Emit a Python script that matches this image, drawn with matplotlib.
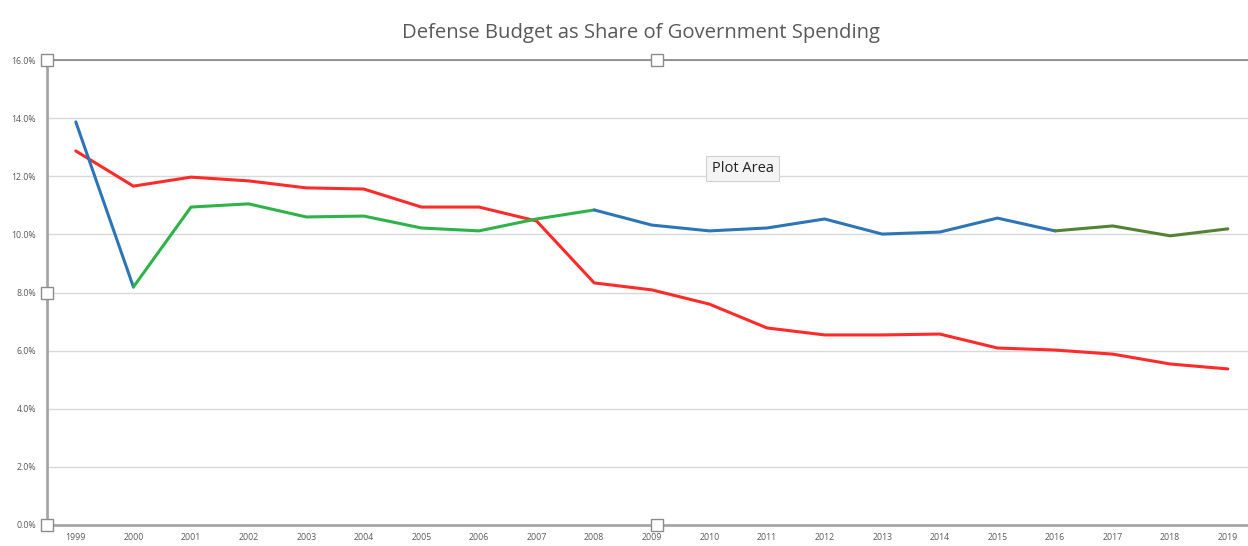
import matplotlib
matplotlib.use("Agg")
import matplotlib.pyplot as plt
from matplotlib.ticker import PercentFormatter

# data (percent of government spending)
years = [str(y) for y in range(1999, 2020)]
red_share = [12.87, 11.66, 11.97, 11.84, 11.60, 11.56, 10.94, 10.94, 10.46, 8.33,
             8.09, 7.60, 6.78, 6.54, 6.54, 6.57, 6.09, 6.02, 5.88, 5.54, 5.37]
defense_share = [13.87, 8.19, 10.94, 11.05, 10.60, 10.63, 10.22, 10.12, 10.53, 10.84,
                 10.32, 10.12, 10.22, 10.53, 10.01, 10.08, 10.56, 10.12, 10.29, 9.95, 10.19]

# colour of each stretch of the second line: (first index, last index, colour)
segments = [(0, 1, "#2e75b6"), (1, 9, "#2db34a"), (9, 17, "#2e75b6"), (17, 20, "#548235")]

fig = plt.figure(figsize=(12.48, 5.46), dpi=100)
plt.rcParams['font.family'] = ['Open Sans', 'DejaVu Sans']

ax = fig.add_axes([47 / 1248, 21 / 546, 21 * 57.6 / 1248, 465 / 546])
x = list(range(len(years)))

ax.plot(x, red_share, color="#ff2a2a", lw=2.2, solid_capstyle="round", zorder=3)
for a, b, c in segments:
    ax.plot(x[a:b + 1], defense_share[a:b + 1], color=c, lw=2.2,
            solid_capstyle="round", zorder=4)

ax.set_xlim(-0.5, len(years) - 0.5)
ax.set_ylim(0, 16)
ax.set_yticks(range(0, 17, 2))
ax.yaxis.set_major_formatter(PercentFormatter(decimals=1))
ax.set_xticks(x)
ax.set_xticklabels(years)
ax.tick_params(axis="both", length=0, labelsize=6.3, labelcolor="#595959")
ax.tick_params(axis="y", pad=8)
ax.tick_params(axis="x", pad=6)
ax.grid(axis="y", color="#d9d9d9", lw=1)
ax.set_axisbelow(True)

ax.spines["right"].set_visible(False)
ax.spines["left"].set_color("#a6a6a6")
ax.spines["left"].set_linewidth(2)
ax.spines["bottom"].set_color("#a6a6a6")
ax.spines["bottom"].set_linewidth(2)
ax.spines["top"].set_color("#8c8c8c")
ax.spines["top"].set_linewidth(1.3)

# selection handles of the plot area
hx = [0, 0.504, 0, 0.504, 0]
hy = [1, 1, 0.5, 0, 0]
ax.plot(hx, hy, ls="none", marker="s", ms=8, mfc="white", mec="#8c8c8c", mew=1,
        transform=ax.transAxes, clip_on=False, zorder=10)

fig.text(0.514, 0.94, "Defense Budget as Share of Government Spending",
         ha="center", va="center", fontsize=14.6, color="#595959")

# tooltip
ax.text(0.575, 0.767, "Plot Area", transform=ax.transAxes, ha="center", va="center",
        fontsize=10.5, color="#222222", zorder=12,
        bbox=dict(boxstyle="square,pad=0.35", fc="#f4f4f4", ec="#d0d0d0", lw=0.8))

fig.savefig("out.png", dpi=100)
